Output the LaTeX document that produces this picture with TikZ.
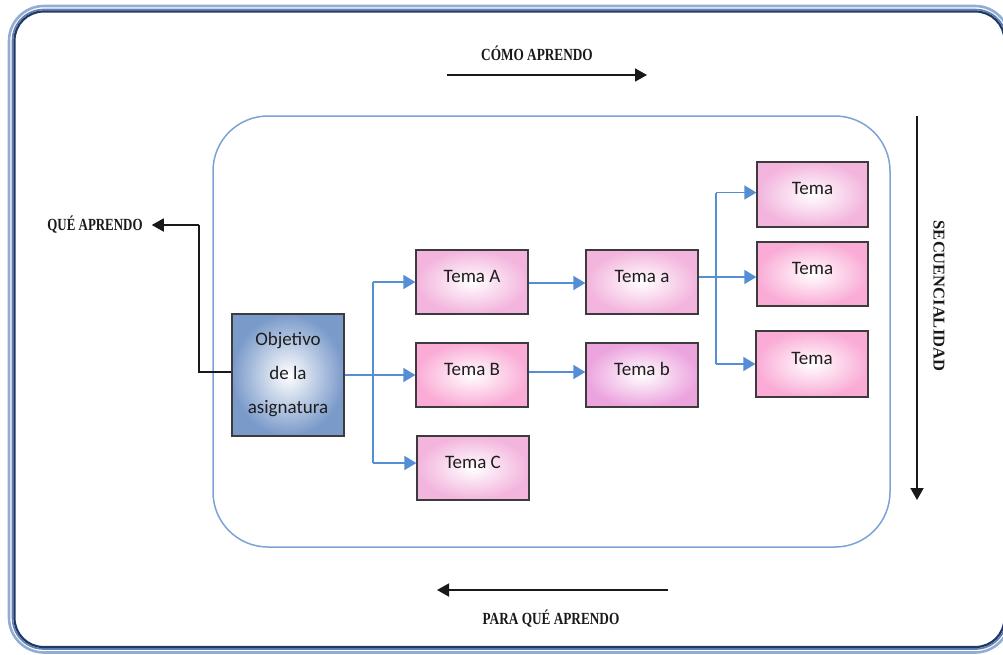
\documentclass[tikz,border=0pt]{standalone}
\usepackage{fontspec}
\setmainfont{Liberation Serif}
\newfontfamily\boxfont{Carlito}
\usetikzlibrary{arrows.meta}

\definecolor{flow}{RGB}{85,142,213}
\definecolor{panel}{RGB}{125,163,214}
\definecolor{frameA}{RGB}{146,173,212}
\definecolor{frameB}{RGB}{98,128,180}
\definecolor{frameC}{RGB}{32,58,102}
\definecolor{boxline}{RGB}{60,60,60}
\definecolor{boxtext}{RGB}{30,30,30}
\definecolor{pinkA}{RGB}{243,180,221}
\definecolor{pinkB}{RGB}{250,172,214}
\definecolor{pinkC}{RGB}{236,164,222}
\definecolor{steel}{RGB}{122,154,202}
\definecolor{ink}{RGB}{25,25,25}

\begin{document}
\begin{tikzpicture}[x=1pt,y=-1pt,
  topic/.style={draw=boxline, line width=1.3pt, minimum width=112pt,
    minimum height=64pt, inner color=white, outer color=#1,
    text=boxtext, font=\boxfont\fontsize{19}{23}\selectfont,
    text height=12pt, text depth=12pt, inner sep=0pt},
  topic/.default=pinkA,
  goal/.style={draw=boxline, line width=1.3pt, minimum width=112pt,
    minimum height=122pt, inner color=white, outer color=steel,
    text=boxtext, align=center, inner sep=0pt,
    font=\boxfont\fontsize{19}{34}\selectfont},
  link/.style={draw=flow, line width=1.6pt},
  linkarrow/.style={link, -{Triangle[length=12pt,width=14pt]}},
  cue/.style={text=ink, font=\bfseries\fontsize{17}{18}\selectfont, inner sep=0pt},
  cuearrow/.style={draw=ink, line width=1.8pt, -{Triangle[length=12pt,width=13pt]}},
  rim/.style={line width=#1, rounded corners=35pt}
]
\useasboundingbox (0,0) rectangle (1003,654);

% page frame: three nested rounded outlines, cut at the page edge
\begin{scope}
  \clip (0,0) rectangle (1003,654);
  \draw[rim=2.6pt, draw=frameA] (9,6) rectangle (1010,652.5);
  \draw[rim=1.6pt, draw=frameB, rounded corners=31pt] (12.5,9.5) rectangle (1006.5,649);
  \draw[rim=2.2pt, draw=frameC, rounded corners=29pt] (14.5,11.5) rectangle (1004.5,647);
\end{scope}

% rounded panel holding the topic tree
\draw[draw=panel, line width=1.5pt, rounded corners=55pt] (213,116) rectangle (890,547);

% nodes
\node[goal] (obj) at (288,375) {Objetivo\\de la\\asignatura};
\node[topic] (A) at (472,282) {Tema A};
\node[topic=pinkB] (B) at (472,375) {Tema B};
\node[topic] (C) at (473,468) {Tema C};
\node[topic] (a) at (642,282) {Tema a};
\node[topic=pinkC] (b) at (642,375) {Tema b};
\node[topic, minimum width=111pt, minimum height=65pt] (t1) at (812.5,194.5) {Tema};
\node[topic=pinkB, minimum width=111pt] (t2) at (812.5,274) {Tema};
\node[topic=pinkB, minimum height=66pt] (t3) at (812,364) {Tema};

% branch points
\coordinate (j1) at (373,375);
\coordinate (j2) at (716,277);

% first level of the tree
\draw[linkarrow] (obj.east) -- (B.west);
\draw[link] (j1 |- A.west) -- ([yshift=5pt]j1 |- C.west);
\draw[linkarrow] (j1 |- A.west) -- (A.west);
\draw[linkarrow] ([yshift=5pt]j1 |- C.west) -- ([yshift=5pt]C.west);

% second level
\draw[linkarrow] ([yshift=-1pt]A.east) -- ([yshift=-1pt]a.west);
\draw[linkarrow] ([yshift=3pt]B.east) -- ([yshift=3pt]b.west);

% third level
\draw[link] (a.east |- j2) -- (j2);
\draw[link] ([yshift=2pt]j2 |- t1.west) -- (j2 |- t3.west);
\draw[linkarrow] (j2) -- (j2 -| t2.west);
\draw[linkarrow] ([yshift=2pt]j2 |- t1.west) -- ([yshift=2pt]t1.west);
\draw[linkarrow] (j2 |- t3.west) -- (t3.west);

% guiding questions around the panel
\node[cue] (como) at (537,53) {\scalebox{0.78}[1]{CÓMO APRENDO}};
\coordinate (c1) at (447,75);
\coordinate (c2) at (647,75);
\draw[cuearrow] (c1) -- (c2);

\node[cue] (para) at (551,619) {\scalebox{0.78}[1]{PARA QUÉ APRENDO}};
\coordinate (p1) at (668,590);
\coordinate (p2) at (437,590);
\draw[cuearrow] (p1) -- (p2);

\node[cue] (que) at (95,225) {\scalebox{0.76}[1]{QUÉ APRENDO}};
\coordinate (qc) at (199,225);
\draw[draw=ink, line width=1.8pt] ([yshift=3pt]obj.west) -| (qc);
\draw[cuearrow] (qc) -- ([xshift=9pt]que.east);

\node[cue, rotate=-90, font=\bfseries\fontsize{16.5}{18}\selectfont] (sec) at (939,296) {SECUENCIALIDAD};
\coordinate (s1) at (917,116);
\coordinate (s2) at (917,500);
\draw[cuearrow] (s1) -- (s2);
\end{tikzpicture}
\end{document}
